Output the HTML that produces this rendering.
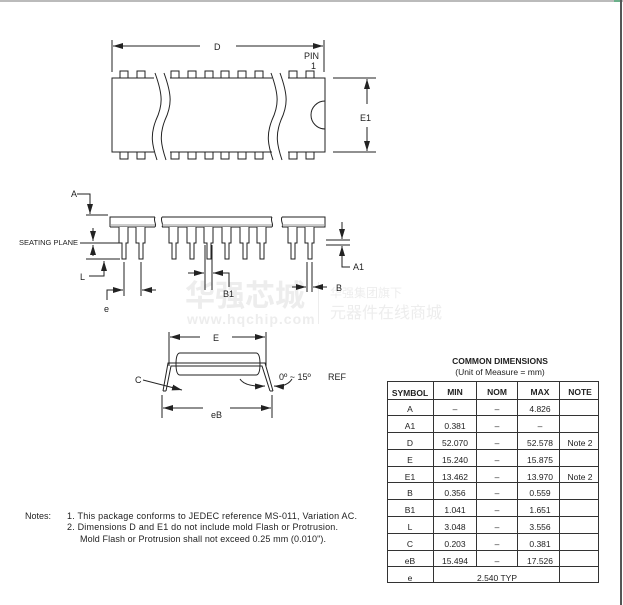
<!DOCTYPE html>
<html><head><meta charset="utf-8"><style>
html,body{margin:0;padding:0;background:#fff;}
svg{display:block;font-family:"Liberation Sans","Noto Sans CJK SC",sans-serif;}
</style></head><body>
<svg width="623" height="605" viewBox="0 0 623 605" xmlns="http://www.w3.org/2000/svg">
<defs>
<marker id="ar" viewBox="0 0 10 6" refX="10" refY="3" markerWidth="10" markerHeight="6" orient="auto" markerUnits="userSpaceOnUse"><path d="M0,0 L10,3 L0,6 z" fill="#222"/></marker>
</defs>
<rect x="0" y="0" width="623" height="2" fill="#bbb"/>
<rect x="614" y="0" width="7" height="2" fill="#6bb08a"/>
<rect x="620" y="0" width="2" height="605" fill="#555"/>

<!-- watermark -->
<g fill="#ededed">
<text x="185" y="306" font-size="30" font-weight="bold" font-family="'Noto Sans CJK SC',sans-serif">华强芯城</text>
<text x="187" y="324" font-size="14" font-weight="bold" letter-spacing="1">www.hqchip.com</text>
<rect x="318" y="282" width="1" height="42"/>
<text x="330" y="297" font-size="12" font-family="'Noto Sans CJK SC',sans-serif">华强集团旗下</text>
<text x="330" y="318" font-size="16" font-family="'Noto Sans CJK SC',sans-serif">元器件在线商城</text>
</g>

<g stroke="#222" stroke-width="1" fill="none">
<!-- TOP VIEW -->
<path d="M112,78 H325 V152 H112 Z" fill="#fff"/>
<g fill="#fff">
<rect x="120" y="71" width="8" height="7"/><rect x="137" y="71" width="8" height="7"/>
<rect x="171" y="71" width="8" height="7"/><rect x="188" y="71" width="8" height="7"/>
<rect x="205" y="71" width="8" height="7"/><rect x="221" y="71" width="8" height="7"/>
<rect x="238" y="71" width="8" height="7"/><rect x="255" y="71" width="8" height="7"/>
<rect x="289" y="71" width="8" height="7"/><rect x="306" y="71" width="8" height="7"/>
<rect x="120" y="152" width="8" height="7"/><rect x="137" y="152" width="8" height="7"/>
<rect x="171" y="152" width="8" height="7"/><rect x="188" y="152" width="8" height="7"/>
<rect x="205" y="152" width="8" height="7"/><rect x="221" y="152" width="8" height="7"/>
<rect x="238" y="152" width="8" height="7"/><rect x="255" y="152" width="8" height="7"/>
<rect x="289" y="152" width="8" height="7"/><rect x="306" y="152" width="8" height="7"/>
</g>
<rect x="154" y="76" width="16" height="85" fill="#fff" stroke="none"/>
<rect x="272" y="76" width="16" height="85" fill="#fff" stroke="none"/>
<path d="M155,73 C163,95 163,105 156,120 C150,135 152,145 157,160"/>
<path d="M164,73 C172,95 172,105 165,120 C159,135 161,145 166,160"/>
<path d="M271,73 C279,95 279,105 272,120 C266,135 268,145 273,160"/>
<path d="M280,73 C288,95 288,105 281,120 C275,135 277,145 282,160"/>
<path d="M325,101 A14,14 0 0 0 325,129"/>
<path d="M112,40 V72 M324,40 V72"/>
<path d="M200,46 H113" marker-end="url(#ar)"/>
<path d="M236,46 H323" marker-end="url(#ar)"/>
<path d="M333,78 H376 M333,152 H376"/>
<path d="M367,104 V79" marker-end="url(#ar)"/>
<path d="M367,127 V151" marker-end="url(#ar)"/>

<!-- SIDE VIEW -->
<path d="M110,227 V217 H155 M162,217 H272 M282,217 H325 V227 H282 M272,227 H162 M155,227 H110"/>
<path d="M155,217 C153,221 157,224 155,227 M162,217 C160,221 164,224 162,227 M272,217 C270,221 274,224 272,227 M282,217 C280,221 284,224 282,227"/>
<path d="M111,225 H155 M162,225 H272 M282,225 H325" stroke="#999"/>
<g fill="#fff">
<path d="M119,227 V243 H122 V259 H126 V243 H128 V227"/>
<path d="M136,227 V243 H139 V259 H143 V243 H145 V227"/>
<path d="M169,227 V243 H172 V259 H176 V243 H178 V227"/>
<path d="M187,227 V243 H190 V259 H194 V243 H196 V227"/>
<path d="M204,227 V243 H207 V259 H211 V243 H213 V227"/>
<path d="M222,227 V243 H225 V259 H229 V243 H231 V227"/>
<path d="M240,227 V243 H243 V259 H247 V243 H249 V227"/>
<path d="M257,227 V243 H260 V259 H264 V243 H266 V227"/>
<path d="M288,227 V243 H291 V259 H295 V243 H297 V227"/>
<path d="M305,227 V243 H308 V259 H312 V243 H314 V227"/>
</g>
<path d="M77,194 H90 V214" marker-end="url(#ar)"/>
<path d="M86,215 H108"/>
<path d="M80,243 H120 M86,259 H120"/>
<path d="M93,228 V241" marker-end="url(#ar)"/>
<path d="M93,256 V245" marker-end="url(#ar)"/>
<path d="M89,276 H104 V261" marker-end="url(#ar)"/>
<!-- e -->
<path d="M124,262 V296 M141,262 V296"/>
<path d="M107,300 V290 H123" marker-end="url(#ar)"/>
<path d="M156,290 H142" marker-end="url(#ar)"/>
<!-- B1 -->
<path d="M205,245 V290 M212,245 V290"/>
<path d="M188,273 H204" marker-end="url(#ar)"/>
<path d="M229,287 V273 H213" marker-end="url(#ar)"/>
<!-- B -->
<path d="M307,262 V292 M312,262 V292"/>
<path d="M292,287 H306" marker-end="url(#ar)"/>
<path d="M327,287 H313" marker-end="url(#ar)"/>
<!-- A1 -->
<path d="M326,240 H350 M326,245 H350"/>
<path d="M342,222 V239" marker-end="url(#ar)"/>
<path d="M350,267 H342 V246" marker-end="url(#ar)"/>

<!-- END VIEW -->
<path d="M169,332 V366 M266,332 V366"/>
<path d="M200,337 H170" marker-end="url(#ar)"/>
<path d="M232,337 H265" marker-end="url(#ar)"/>
<path d="M180,353 H256 Q260,353 260,364 Q260,375 256,375 H180 Q176,375 176,364 Q176,353 180,353 Z" fill="#fff"/>
<path d="M163,391 L168,363 H265 L273,391 M166,391 L171,366 H262 L270,391" fill="none"/>
<path d="M163,391 H166 M270,391 H273"/>
<path d="M143,380 L182,390" marker-end="url(#ar)"/>
<path d="M240,379 Q245,387 265,386" marker-end="url(#ar)"/>
<path d="M292,379 Q287,387 274,386" marker-end="url(#ar)"/>
<path d="M162,395 V418 M272,395 V418"/>
<path d="M203,408 H163" marker-end="url(#ar)"/>
<path d="M230,408 H271" marker-end="url(#ar)"/>
</g>

<g font-size="9" fill="#222">
<text x="214" y="50">D</text>
<text x="304" y="59">PIN</text>
<text x="311" y="69">1</text>
<text x="360" y="121">E1</text>
<text x="71" y="197">A</text>
<text x="19" y="245" font-size="7.5">SEATING PLANE</text>
<text x="80" y="280">L</text>
<text x="104" y="312">e</text>
<text x="223" y="297">B1</text>
<text x="336" y="291">B</text>
<text x="353" y="270">A1</text>
<text x="213" y="341">E</text>
<text x="135" y="383">C</text>
<text x="279" y="380">0º ~ 15º</text>
<text x="328" y="380">REF</text>
<text x="211" y="418">eB</text>
</g>

<!-- notes -->
<g font-size="9" fill="#222">
<text x="25" y="519">Notes:</text>
<text x="67" y="519" textLength="290">1. This package conforms to JEDEC reference MS-011, Variation AC.</text>
<text x="67" y="530" textLength="271">2. Dimensions D and E1 do not include mold Flash or Protrusion.</text>
<text x="80" y="542" textLength="246">Mold Flash or Protrusion shall not exceed 0.25 mm (0.010").</text>
</g>

<!-- table -->
<g font-size="8.5" fill="#222" text-anchor="middle">
<text x="500" y="364" font-weight="bold">COMMON DIMENSIONS</text>
<text x="500" y="375">(Unit of Measure = mm)</text>
</g>
<g stroke="#333" stroke-width="1" fill="none">
<rect x="387.5" y="381.5" width="211" height="201"/>
<path d="M387,399.5 H598 M387,415.5 H598 M387,432.5 H598 M387,449.5 H598 M387,466.5 H598 M387,482.5 H598 M387,499.5 H598 M387,516.5 H598 M387,533.5 H598 M387,550.5 H598 M387,566.5 H598"/>
<path d="M433.5,381 V583 M476.5,381 V567 M517.5,381 V567 M559.5,381 V583"/>
</g>
<g font-size="8.5" fill="#222" text-anchor="middle">
<g font-weight="bold"><text x="410" y="396">SYMBOL</text><text x="455" y="395">MIN</text><text x="497" y="395">NOM</text><text x="540" y="395">MAX</text><text x="580" y="395">NOTE</text></g>
<text x="410" y="412">A</text><text x="455" y="412">–</text><text x="497" y="412">–</text><text x="540" y="412">4.826</text>
<text x="410" y="429">A1</text><text x="455" y="429">0.381</text><text x="497" y="429">–</text><text x="540" y="429">–</text>
<text x="410" y="446">D</text><text x="455" y="446">52.070</text><text x="497" y="446">–</text><text x="540" y="446">52.578</text><text x="580" y="446">Note 2</text>
<text x="410" y="463">E</text><text x="455" y="463">15.240</text><text x="497" y="463">–</text><text x="540" y="463">15.875</text>
<text x="410" y="480">E1</text><text x="455" y="480">13.462</text><text x="497" y="480">–</text><text x="540" y="480">13.970</text><text x="580" y="480">Note 2</text>
<text x="410" y="496">B</text><text x="455" y="496">0.356</text><text x="497" y="496">–</text><text x="540" y="496">0.559</text>
<text x="410" y="513">B1</text><text x="455" y="513">1.041</text><text x="497" y="513">–</text><text x="540" y="513">1.651</text>
<text x="410" y="530">L</text><text x="455" y="530">3.048</text><text x="497" y="530">–</text><text x="540" y="530">3.556</text>
<text x="410" y="547">C</text><text x="455" y="547">0.203</text><text x="497" y="547">–</text><text x="540" y="547">0.381</text>
<text x="410" y="564">eB</text><text x="455" y="564">15.494</text><text x="497" y="564">–</text><text x="540" y="564">17.526</text>
<text x="410" y="581">e</text><text x="497" y="581">2.540 TYP</text>
</g>
</svg>
</body></html>
